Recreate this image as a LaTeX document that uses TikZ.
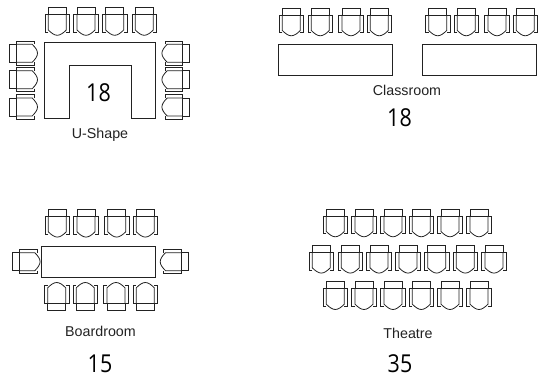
\documentclass[tikz,border=0pt]{standalone}
\usepackage{fontspec}
\setmainfont{Liberation Sans}
\newfontfamily\numfont{Open Sans}
\newcommand{\numtxt}[1]{\scalebox{0.87}[1]{#1}}
\definecolor{ink}{HTML}{222222}
\tikzset{
  x=0.75pt,y=-0.75pt,
  ln/.style={draw=ink,line width=0.6pt,line join=miter},
  tablebox/.style={ln,line width=0.7pt,fill=white},
  lbl/.style={inner sep=0pt,text=ink,font=\fontsize{10.7pt}{12pt}\selectfont},
  num/.style={inner sep=0pt,text=black,font=\numfont\fontsize{18.5pt}{20pt}\selectfont},
  chair/.pic={
    \draw[ln] (-9,-7) -- (-9,-14) -- (9,-14) -- (9,-7);
    \draw[ln] (-9,10.8) -- (-12.2,10.8) -- (-12.2,-7) -- (12.2,-7) -- (12.2,10.8) -- (9,10.8);
    \draw[ln] (-9,-7) -- (-9,8.5) .. controls (-6,11.5) and (-3,13.8) .. (0,13.8) .. controls (3,13.8) and (6,11.5) .. (9,8.5) -- (9,-7);
  }
}
\begin{document}
\begin{tikzpicture}
\useasboundingbox (0,0) rectangle (538,377);
% U-Shape
\foreach \cx/\i in {57.3/1,86/2,114.7/3,144.3/4}
  \pic (ua\i) at (\cx,21.5) {chair};
\foreach \cy/\i in {53.3/1,79.7/2,107/3}{
  \pic[rotate=90] (ub\i) at (23.7,\cy) {chair};
  \pic[rotate=-90] (uc\i) at (175.7,\cy) {chair};
}
\draw[tablebox] (44.7,42.3) -- (155.7,42.3) -- (155.7,118.7) -- (131,118.7) -- (131,65) -- (69,65) -- (69,118.7) -- (44.7,118.7) -- cycle;
\node[num] (n1) at (98.5,93) {\numtxt{18}};
\node[lbl] (l1) at (100,134.5) {U-Shape};
% Classroom
\foreach \cx/\i in {291.3/1,320.3/2,351/3,379.3/4,437.7/5,466.3/6,497/7,525.3/8}
  \pic (ca\i) at (\cx,22) {chair};
\node[tablebox,minimum width=85.5pt,minimum height=23.25pt,inner sep=0pt] (t1) at (335.3,59.8) {};
\node[tablebox,minimum width=85.7pt,minimum height=23.25pt,inner sep=0pt] (t2) at (479.2,59.8) {};
\node[lbl] (l2) at (407,90) {Classroom};
\node[num] (n2) at (399.5,118) {\numtxt{18}};
% Boardroom
\foreach \cx/\i in {57.3/1,86/2,116.7/3,145.3/4}
  \pic (ba\i) at (\cx,223.3) {chair};
\foreach \cx/\i in {56.7/1,85.3/2,116/3,145.3/4}
  \pic[rotate=180] (bb\i) at (\cx,296.3) {chair};
\pic[rotate=90] (bl) at (26.3,261.7) {chair};
\pic[rotate=-90] (br) at (174,261.7) {chair};
\node[tablebox,minimum width=85.5pt,minimum height=23.25pt,inner sep=0pt] (t3) at (98.7,261.5) {};
\node[lbl] (l3) at (100.5,331) {Boardroom};
\node[num] (n3) at (100,364) {\numtxt{15}};
% Theatre
\foreach \cx/\i in {335.3/1,364/2,393/3,421.3/4,450/5,479/6}{
  \pic (ta\i) at (\cx,223) {chair};
  \pic (tc\i) at (\cx,295.7) {chair};
}
\foreach \cx/\i in {321.3/1,350.3/2,379/3,408/4,436.7/5,465.3/6,494/7}
  \pic (tb\i) at (\cx,259.3) {chair};
\node[lbl] (l4) at (408,333) {Theatre};
\node[num] (n4) at (400,364) {\numtxt{35}};
\end{tikzpicture}
\end{document}
